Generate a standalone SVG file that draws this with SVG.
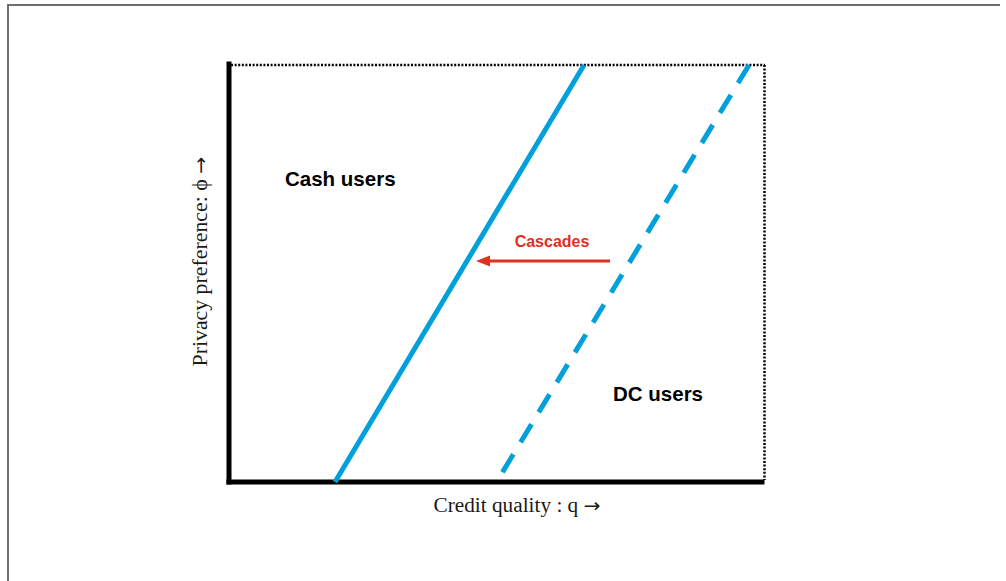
<svg xmlns="http://www.w3.org/2000/svg" width="1006" height="581" viewBox="0 0 1006 581">
<style>
.frame{stroke:#6e6e6e;stroke-width:2;fill:none}
.axis{stroke:#000;stroke-width:5;fill:none;stroke-linecap:square}
.dot{stroke:#000;stroke-width:2.5;fill:none;stroke-dasharray:2 1.6}
.blue{stroke:#00a0dc;stroke-width:5;fill:none}
.dash{stroke-dasharray:21 14}
.red{stroke:#e0301e;stroke-width:3;fill:none}
.lbl{font-family:"Liberation Sans",Arial,sans-serif;font-weight:bold;font-size:20.5px;fill:#000}
.ser{font-family:"Liberation Serif","DejaVu Serif",serif;font-size:20px;fill:#1a1a1a}
.arr{font-family:"DejaVu Sans",sans-serif;font-size:19px}
</style>
<rect width="1006" height="581" fill="#fff"/>
<g id="frame">
<polyline class="frame" points="8,581 8,5 1000,5"/>
</g>
<g id="axes">
<line class="dot" x1="231" y1="65" x2="765" y2="65"/>
<line class="dot" x1="764.5" y1="65" x2="764.5" y2="480"/>
<line class="axis" x1="229" y1="64" x2="229" y2="482"/>
<line class="axis" x1="229" y1="482" x2="762" y2="482"/>
</g>
<g id="connectors">
<line class="blue" x1="335" y1="482" x2="584" y2="65"/>
<line class="blue dash" x1="749" y1="65" x2="496.5" y2="482"/>
<line class="red" x1="610" y1="261" x2="486" y2="261"/>
<polygon points="476,261 490,255.5 490,266.5" fill="#e0301e"/>
</g>
<g id="cash">
<text class="lbl" x="285" y="186">Cash users</text>
</g>
<g id="dc">
<text class="lbl" x="613" y="401">DC users</text>
</g>
<g id="cascades">
<text x="552" y="247" text-anchor="middle" font-family="'Liberation Sans',Arial,sans-serif" font-weight="bold" font-size="16px" fill="#e0301e">Cascades</text>
</g>
<g id="xlabel">
<text class="ser" x="433.5" y="511.5" textLength="167" lengthAdjust="spacingAndGlyphs">Credit quality : q <tspan class="arr">→</tspan></text>
</g>
<g id="ylabel">
<text class="ser" transform="translate(206.5,366.5) rotate(-90)" x="0" y="0" textLength="210" lengthAdjust="spacingAndGlyphs">Privacy preference: ϕ <tspan class="arr">→</tspan></text>
</g>
</svg>
